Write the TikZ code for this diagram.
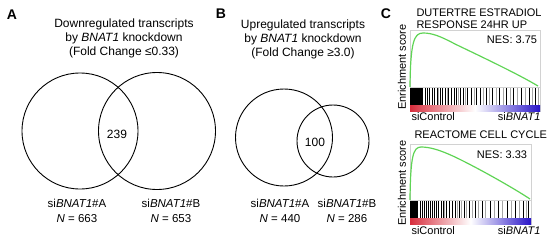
\documentclass[tikz,border=0pt]{standalone}
\usepackage{fontspec}
\setmainfont{Liberation Sans}
\definecolor{curvegreen}{RGB}{95,212,85}
\definecolor{stripred}{RGB}{215,45,60}
\definecolor{stripblue}{RGB}{40,20,200}
\begin{document}
\begin{tikzpicture}[x=1pt,y=-1pt,
  venn/.style={circle,draw,line width=0.9pt,inner sep=0pt},
  plabel/.style={font=\fontsize{14}{16}\selectfont\bfseries},
  ttl/.style={font=\fontsize{12}{14}\selectfont,align=center},
  lab/.style={font=\fontsize{11.5}{15}\selectfont,align=center},
  num/.style={font=\fontsize{12}{14}\selectfont},
  ctxt/.style={font=\fontsize{11}{12}\selectfont},
  es/.style={green curve},
  green curve/.style={draw=curvegreen,line width=1.2pt},
  frame/.style={draw=gray!35,line width=0.4pt},
  bar/.style={line width=0.9pt,black},
  gbar/.style={line width=0.9pt,gray!70}]
\useasboundingbox (0,0) rectangle (550,242);
% Panel labels
\node[plabel] (lA) at (12,15) {A};
\node[plabel] (lB) at (221,14) {B};
\node[plabel] (lC) at (386,14) {C};
% Panel A
\node[ttl] (tA) at (124,38) {Downregulated transcripts\\by \textit{BNAT1} knockdown\\(Fold Change ≤0.33)};
\node[venn,minimum size=116pt] (cA1) at (80,131) {};
\node[venn,minimum size=117pt] (cA2) at (157,131) {};
\node[num] (nA) at (117,134) {239};
\node[lab] (sA1) at (77,210.5) {si\textit{BNAT1}\#A\\\textit{N} = 663};
\node[lab] (sA2) at (171,210.5) {si\textit{BNAT1}\#B\\\textit{N} = 653};
% Panel B
\node[ttl] (tB) at (303,39) {Upregulated transcripts\\by \textit{BNAT1} knockdown\\(Fold Change ≥3.0)};
\node[venn,minimum size=97pt] (cB1) at (284,137.5) {};
\node[venn,minimum size=72pt] (cB2) at (333,141) {};
\node[num] (nB) at (315,142) {100};
\node[lab] (sB1) at (280,210.5) {si\textit{BNAT1}\#A\\\textit{N} = 440};
\node[lab] (sB2) at (347,210.5) {si\textit{BNAT1}\#B\\\textit{N} = 286};
% Panel C top
\node[ctxt,rotate=90] (esT) at (402,67) {Enrichment score};
\node[ctxt,anchor=west,align=left] (tC1) at (413,19) {DUTERTRE ESTRADIOL\\RESPONSE 24HR UP};
\draw[frame] (410,30) rectangle (540,111);
\draw[frame] (410,87) -- (540,87);
\fill[black] (410,88) rectangle (423,105);
\foreach \x in {425,427,429,432,434,437,440,442,445,448,451,454,456,460,463,467,471,476,480,486,492,499,506,513,521,529,535}
  \draw[bar] (\x,88) -- (\x,105);
\foreach \x in {438,447,458,465,474,483,489,496,503,510,517,525,532,538}
  \draw[gbar] (\x,88) -- (\x,105);
\shade[left color=stripred,right color=stripblue,middle color=white] (410,105) rectangle (540,111);
\draw[green curve] (410,87) .. controls (410.5,42) and (414,33) .. (423,33)
  .. controls (432,33) and (440,36) .. (455,44)
  .. controls (480,56) and (518,74) .. (538,86);
\node[ctxt] (nesT) at (512,40) {NES: 3.75};
\node[ctxt,anchor=west] (scT) at (408,117) {siControl};
\node[ctxt,anchor=east] (sbT) at (544,117) {si\textit{BNAT1}};
% Panel C bottom
\node[ctxt,rotate=90] (esB) at (402,183) {Enrichment score};
\node[ctxt,anchor=west] (tC2) at (411,135) {REACTOME CELL CYCLE};
\draw[frame] (410,144) rectangle (531,224);
\draw[frame] (410,200) -- (531,200);
\fill[black] (410,201) rectangle (418,218);
\foreach \x in {420,422,424,426,428,430,432,434,436,438,441,443,446,449,452,455,459,464,469,475,482,490,498,507,515,523,528}
  \draw[bar] (\x,201) -- (\x,218);
\foreach \x in {444,457,461,466,472,478,485,494,502,511,519,526}
  \draw[gbar] (\x,201) -- (\x,218);
\shade[left color=stripred,right color=stripblue,middle color=white] (410,218) rectangle (531,224);
\draw[green curve] (410,200) .. controls (410.5,157) and (413,147) .. (421,147)
  .. controls (430,147) and (440,150) .. (455,157)
  .. controls (480,169) and (515,189) .. (530,199);
\node[ctxt] (nesB) at (502,155) {NES: 3.33};
\node[ctxt,anchor=west] (scB) at (408,231) {siControl};
\node[ctxt,anchor=east] (sbB) at (544,231) {si\textit{BNAT1}};
\end{tikzpicture}
\end{document}
